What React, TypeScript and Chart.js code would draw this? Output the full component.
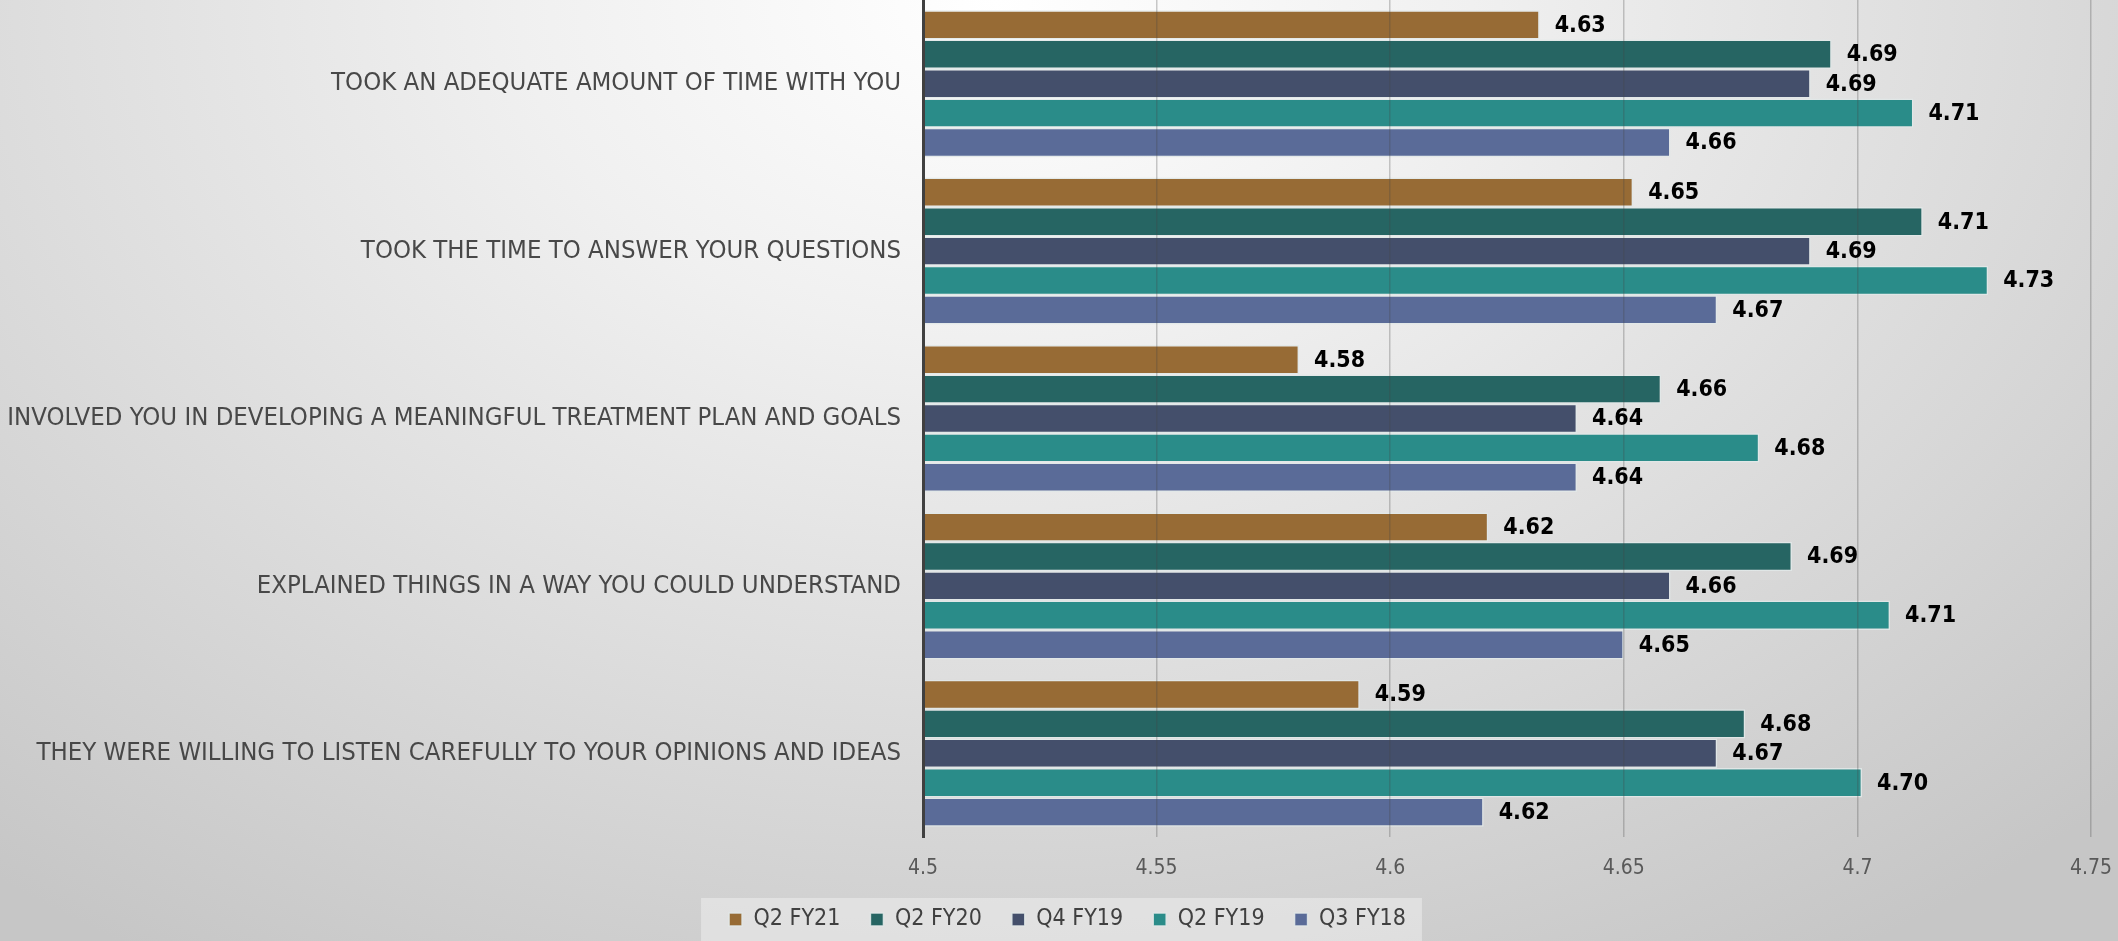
import React, { useEffect, useRef } from "react";
import { Chart, registerables } from "chart.js";

Chart.register(...registerables);

const categories = [
  "TOOK AN ADEQUATE AMOUNT OF TIME WITH YOU",
  "TOOK THE TIME TO ANSWER YOUR QUESTIONS",
  "INVOLVED YOU IN DEVELOPING A MEANINGFUL TREATMENT PLAN AND GOALS",
  "EXPLAINED THINGS IN A WAY YOU COULD UNDERSTAND",
  "THEY WERE WILLING TO LISTEN CAREFULLY TO YOUR OPINIONS AND IDEAS",
];

const seriesNames = ["Q2 FY21", "Q2 FY20", "Q4 FY19", "Q2 FY19", "Q3 FY18"];

const q2fy21 = [4.632, 4.652, 4.5805, 4.621, 4.5935];
const q2fy20 = [4.6945, 4.714, 4.658, 4.686, 4.676];
const q4fy19 = [4.69, 4.69, 4.64, 4.66, 4.67];
const q2fy19 = [4.712, 4.728, 4.679, 4.707, 4.701];
const q3fy18 = [4.66, 4.67, 4.64, 4.65, 4.62];

const seriesColors = ["#976B35", "#266563", "#444F6B", "#2A8C89", "#5A6B98"];

const xMin = 4.5;
const xMax = 4.75;
const xStep = 0.05;

const FONT = "'DejaVu Sans Condensed', 'Liberation Sans Narrow', sans-serif";

const valueLabelPlugin = {
  id: "valueLabels",
  afterDraw(chart: any) {
    const ctx = chart.ctx;
    ctx.save();
    ctx.font = `bold 23px ${FONT}`;
    ctx.fillStyle = "#000000";
    ctx.textAlign = "left";
    ctx.textBaseline = "middle";
    chart.data.datasets.forEach((ds: any, di: number) => {
      const meta = chart.getDatasetMeta(di);
      meta.data.forEach((el: any, i: number) => {
        const v = ds.data[i] as number;
        ctx.fillText(v.toFixed(2), el.x + 15, el.y + 1);
      });
    });
    ctx.restore();
  },
};

const legendBoxPlugin = {
  id: "legendBox",
  afterLayout(chart: any) {
    const lg = chart.legend;
    if (!lg) return;
    lg.left += 22;
    lg.right += 22;
  },
  beforeDraw(chart: any) {
    const lg = chart.legend;
    if (!lg || !lg.legendHitBoxes || !lg.legendHitBoxes.length) return;
    const boxes = lg.legendHitBoxes;
    let l = Infinity;
    let r = -Infinity;
    let t = Infinity;
    boxes.forEach((b: any) => {
      l = Math.min(l, b.left);
      r = Math.max(r, b.left + b.width);
      t = Math.min(t, b.top);
    });
    const ctx = chart.ctx;
    ctx.save();
    ctx.fillStyle = "rgba(255,255,255,0.35)";
    ctx.fillRect(l - 28, t - 10, r - l + 44, chart.height - (t - 10));
    ctx.restore();
  },
};

export default function App() {
  const ref = useRef<HTMLCanvasElement | null>(null);

  useEffect(() => {
    if (!ref.current) return;
    const seriesData = [q2fy21, q2fy20, q4fy19, q2fy19, q3fy18];
    const chart = new Chart(ref.current, {
      type: "bar",
      data: {
        labels: categories,
        datasets: seriesNames.map((name, i) => ({
          label: name,
          data: seriesData[i],
          backgroundColor: seriesColors[i],
          borderColor: "rgba(225,232,232,0.9)",
          borderWidth: 1.5,
          categoryPercentage: 0.878,
          barPercentage: 1.0,
        })),
      },
      options: {
        indexAxis: "y",
        responsive: false,
        animation: false,
        layout: { padding: { left: 0, right: 27, top: 0, bottom: 0 } },
        plugins: {
          legend: {
            position: "bottom",
            labels: {
              font: { family: FONT, size: 23 },
              color: "#404040",
              boxWidth: 13,
              boxHeight: 13,
              padding: 30,
            },
          },
          tooltip: { enabled: false },
        },
        scales: {
          x: {
            min: xMin,
            max: xMax,
            ticks: {
              stepSize: xStep,
              font: { family: FONT, size: 21 },
              color: "#595959",
              padding: 19,
              callback: (v: any) => String(Number(Number(v).toFixed(2))),
            },
            grid: {
              color: "rgba(70,70,70,0.28)",
              lineWidth: 1.5,
              drawTicks: false,
              z: 1,
            },
            border: { display: false },
            afterFit: (scale: any) => {
              scale.height = 41;
              scale.paddingLeft = 0;
              scale.paddingRight = 0;
            },
          },
          y: {
            ticks: {
              font: { family: FONT, size: 25.5 },
              color: "#484848",
              padding: 22,
            },
            grid: { display: false, drawTicks: false },
            border: { color: "#404040", width: 3, z: 2 },
            afterFit: (scale: any) => {
              scale.width = 923;
              scale.paddingTop = 0;
              scale.paddingBottom = 0;
            },
          },
        },
      },
      plugins: [valueLabelPlugin, legendBoxPlugin],
    });
    return () => chart.destroy();
  }, []);

  return (
    <div
      style={{
        position: "fixed",
        left: 0,
        top: 0,
        width: 2118,
        height: 941,
        background:
          "radial-gradient(ellipse 75% 120% at 47% 0%, #ffffff 0%, #f0f0f0 30%, #dedede 60%, #c6c6c6 100%)",
      }}
    >
      <canvas ref={ref} width={2118} height={941} style={{ display: "block" }} />
    </div>
  );
}
